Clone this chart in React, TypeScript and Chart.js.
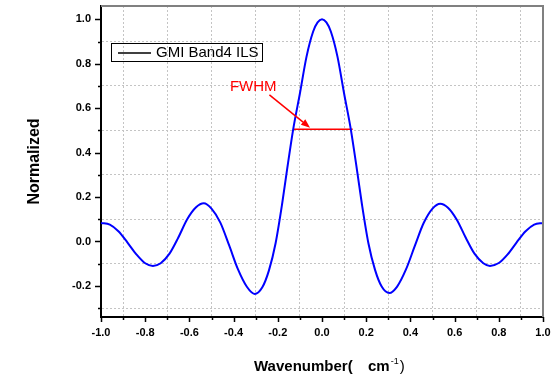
import { useEffect, useRef } from 'react';
import { Chart, registerables } from 'chart.js';

Chart.register(...registerables);

const seriesLabel = 'GMI Band4 ILS';
const wavenumber = [
  -1.0, -0.96, -0.92, -0.88, -0.84, -0.8, -0.765, -0.73, -0.69, -0.65, -0.61, -0.57, -0.535, -0.5, -0.46, -0.42,
  -0.38, -0.34, -0.305, -0.27, -0.24, -0.21, -0.18, -0.16, -0.13, -0.1, -0.07, -0.04, -0.02, 0.0,
  0.02, 0.04, 0.07, 0.1, 0.13, 0.16, 0.18, 0.21, 0.24, 0.27, 0.305, 0.34, 0.38, 0.42, 0.46, 0.5,
  0.535, 0.57, 0.61, 0.65, 0.69, 0.73, 0.76, 0.8, 0.84, 0.88, 0.92, 0.96, 1.0,
];
const normalized = [
  0.083, 0.076, 0.045, -0.005, -0.058, -0.098, -0.11, -0.098, -0.055, 0.018, 0.1, 0.154, 0.172, 0.148, 0.085, -0.018,
  -0.126, -0.204, -0.236, -0.206, -0.13, -0.008, 0.172, 0.31, 0.507, 0.666, 0.832, 0.945, 0.986, 1.0,
  0.986, 0.945, 0.832, 0.666, 0.507, 0.31, 0.172, -0.008, -0.128, -0.203, -0.232, -0.203, -0.126, -0.02, 0.083, 0.148,
  0.17, 0.152, 0.098, 0.018, -0.055, -0.098, -0.11, -0.097, -0.058, -0.005, 0.045, 0.076, 0.083,
];
const xTickValues = [
  -1.0, -0.9, -0.8, -0.7, -0.6, -0.5, -0.4, -0.3, -0.2, -0.1, 0.0, 0.1, 0.2, 0.3, 0.4, 0.5, 0.6, 0.7, 0.8, 0.9, 1.0,
];
const yTickValues = [-0.3, -0.2, -0.1, 0.0, 0.1, 0.2, 0.3, 0.4, 0.5, 0.6, 0.7, 0.8, 0.9, 1.0];
const fwhmX = [-0.13, 0.139];
const fwhmY = [0.505, 0.505];
const fwhmLabel = 'FWHM';
const xTitleMain = 'Wavenumber(';
const xTitleUnit = 'cm';
const xTitleSup = '-1';
const xTitleEnd = ')';
const yTitle = 'Normalized';

const X_MIN = -1.0;
const X_MAX = 1.0;
const Y_MIN = -0.34;
const Y_MAX = 1.06;

const ARROW_FROM = { x: -0.238, y: 0.66 };
const ARROW_TO = { x: -0.054, y: 0.512 };
const FWHM_TEXT_AT = { x: -0.311, y: 0.697 };

const FONT = 'Arial, "Liberation Sans", sans-serif';

const isMajor = (v: number) => Math.abs(Math.round(v * 10)) % 2 === 0;

const decorPlugin = {
  id: 'decor',
  afterDraw(chart: any) {
    const { ctx, chartArea: a, scales } = chart;
    const xs = scales.x;
    const ys = scales.y;
    ctx.save();

    // top & right frame
    ctx.strokeStyle = '#808080';
    ctx.lineWidth = 2;
    ctx.beginPath();
    ctx.moveTo(a.left, a.top);
    ctx.lineTo(a.right, a.top);
    ctx.lineTo(a.right, a.bottom);
    ctx.stroke();

    // tick marks
    ctx.strokeStyle = '#000';
    ctx.lineWidth = 1.5;
    xTickValues.forEach((v) => {
      const px = Math.round(xs.getPixelForValue(v)) + 0.5;
      const len = isMajor(v) ? 5 : 3;
      ctx.beginPath();
      ctx.moveTo(px, a.bottom);
      ctx.lineTo(px, a.bottom + len);
      ctx.stroke();
    });
    yTickValues.forEach((v) => {
      const py = Math.round(ys.getPixelForValue(v)) + 0.5;
      const len = isMajor(v) ? 6 : 3;
      ctx.beginPath();
      ctx.moveTo(a.left, py);
      ctx.lineTo(a.left - len, py);
      ctx.stroke();
    });

    // legend
    const lx = a.left + 10;
    const ly = a.top + 37;
    ctx.lineWidth = 1;
    ctx.strokeStyle = '#000';
    ctx.strokeRect(lx + 0.5, ly + 0.5, 151, 18);
    ctx.lineWidth = 1.5;
    ctx.beginPath();
    ctx.moveTo(lx + 7, ly + 10);
    ctx.lineTo(lx + 40, ly + 10);
    ctx.stroke();
    ctx.fillStyle = '#000';
    ctx.font = `15px ${FONT}`;
    ctx.textAlign = 'left';
    ctx.textBaseline = 'middle';
    ctx.fillText(chart.data.datasets[0].label, lx + 45, ly + 10);

    // FWHM arrow
    const x1 = xs.getPixelForValue(ARROW_FROM.x);
    const y1 = ys.getPixelForValue(ARROW_FROM.y);
    const x2 = xs.getPixelForValue(ARROW_TO.x);
    const y2 = ys.getPixelForValue(ARROW_TO.y);
    const ang = Math.atan2(y2 - y1, x2 - x1);
    const headLen = 9;
    const headW = 3.5;
    ctx.strokeStyle = '#ff0000';
    ctx.fillStyle = '#ff0000';
    ctx.lineWidth = 1.5;
    ctx.beginPath();
    ctx.moveTo(x1, y1);
    ctx.lineTo(x2 - headLen * Math.cos(ang), y2 - headLen * Math.sin(ang));
    ctx.stroke();
    ctx.beginPath();
    ctx.moveTo(x2, y2);
    ctx.lineTo(
      x2 - headLen * Math.cos(ang) + headW * Math.sin(ang),
      y2 - headLen * Math.sin(ang) - headW * Math.cos(ang)
    );
    ctx.lineTo(
      x2 - headLen * Math.cos(ang) - headW * Math.sin(ang),
      y2 - headLen * Math.sin(ang) + headW * Math.cos(ang)
    );
    ctx.closePath();
    ctx.fill();

    ctx.font = `15px ${FONT}`;
    ctx.textAlign = 'center';
    ctx.textBaseline = 'middle';
    ctx.fillText(fwhmLabel, xs.getPixelForValue(FWHM_TEXT_AT.x), ys.getPixelForValue(FWHM_TEXT_AT.y));

    // x title
    ctx.fillStyle = '#000';
    ctx.textAlign = 'left';
    ctx.textBaseline = 'alphabetic';
    const tx = a.left + 153;
    const ty = a.bottom + 54;
    ctx.font = `bold 15px ${FONT}`;
    ctx.fillText(xTitleMain, tx, ty);
    const cmX = tx + 114;
    ctx.fillText(xTitleUnit, cmX, ty);
    const supX = cmX + ctx.measureText(xTitleUnit).width + 1;
    ctx.font = `9px ${FONT}`;
    ctx.fillText(xTitleSup, supX, ty - 7);
    const endX = supX + ctx.measureText(xTitleSup).width + 1;
    ctx.font = `15px ${FONT}`;
    ctx.fillText(xTitleEnd, endX, ty);

    // y title
    ctx.save();
    ctx.translate(35, (a.top + a.bottom) / 2);
    ctx.rotate(-Math.PI / 2);
    ctx.font = `bold 16px ${FONT}`;
    ctx.textAlign = 'center';
    ctx.textBaseline = 'middle';
    ctx.fillText(yTitle, 0, 0);
    ctx.restore();

    ctx.restore();
  },
};

export default function App() {
  const ref = useRef<HTMLCanvasElement | null>(null);

  useEffect(() => {
    if (!ref.current) return;
    const gridColor = (c: any) => (c.tick && !isMajor(c.tick.value) ? '#c4c4c4' : 'rgba(0,0,0,0)');
    const chart = new Chart(ref.current, {
      type: 'line',
      data: {
        datasets: [
          {
            label: seriesLabel,
            data: wavenumber.map((x, i) => ({ x, y: normalized[i] })),
            borderColor: '#0000ff',
            borderWidth: 2,
            pointRadius: 0,
            cubicInterpolationMode: 'monotone',
          },
          {
            label: fwhmLabel,
            data: fwhmX.map((x, i) => ({ x, y: fwhmY[i] })),
            borderColor: '#ff0000',
            borderWidth: 1.5,
            pointRadius: 0,
            tension: 0,
          },
        ],
      },
      options: {
        responsive: false,
        animation: false,
        layout: { padding: { top: 6, right: 11, left: 0, bottom: 0 } },
        plugins: { legend: { display: false }, tooltip: { enabled: false } },
        scales: {
          x: {
            type: 'linear',
            min: X_MIN,
            max: X_MAX,
            afterBuildTicks: (s: any) => {
              s.ticks = xTickValues.map((value) => ({ value }));
            },
            afterFit: (s: any) => {
              s.height = 60;
              s.paddingLeft = 0;
              s.paddingRight = 0;
              s.paddingTop = 0;
              s.paddingBottom = 0;
            },
            grid: { color: gridColor, lineWidth: 1, drawTicks: false },
            border: { display: true, color: '#000', width: 2, dash: [2, 2] },
            ticks: {
              autoSkip: false,
              maxRotation: 0,
              padding: 9,
              color: '#000',
              font: { family: FONT, size: 11, weight: 'bold' },
              callback: (v: any) => (isMajor(Number(v)) ? Number(v).toFixed(1) : ''),
            },
          },
          y: {
            type: 'linear',
            min: Y_MIN,
            max: Y_MAX,
            afterBuildTicks: (s: any) => {
              s.ticks = yTickValues.map((value) => ({ value }));
            },
            afterFit: (s: any) => {
              s.width = 101;
              s.paddingLeft = 0;
              s.paddingRight = 0;
              s.paddingTop = 0;
              s.paddingBottom = 0;
            },
            grid: { color: gridColor, lineWidth: 1, drawTicks: false },
            border: { display: true, color: '#000', width: 2, dash: [2, 2] },
            ticks: {
              autoSkip: false,
              padding: 10,
              color: '#000',
              font: { family: FONT, size: 11, weight: 'bold' },
              callback: (v: any) => (isMajor(Number(v)) ? Number(v).toFixed(1) : ''),
            },
          },
        },
      },
      plugins: [decorPlugin],
    } as any);
    return () => chart.destroy();
  }, []);

  return (
    <div style={{ position: 'absolute', left: 0, top: 0, width: 554, height: 377, background: '#fff' }}>
      <canvas ref={ref} width={554} height={377} style={{ display: 'block' }} />
    </div>
  );
}
